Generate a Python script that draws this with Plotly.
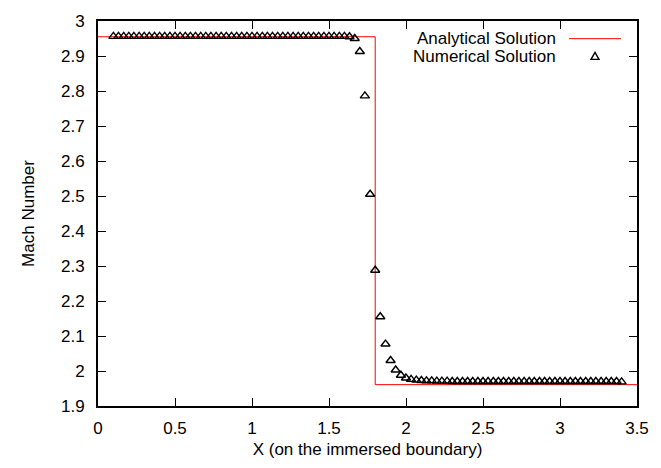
import plotly.graph_objects as go

# Analytical solution (step)
ana_x = [0.0, 1.8, 1.8, 3.5]
ana_y = [2.955, 2.955, 1.961, 1.961]

# Numerical solution
num_x = [0.100, 0.133, 0.167, 0.200, 0.233, 0.267, 0.300, 0.333, 0.367, 0.400,
         0.433, 0.467, 0.500, 0.533, 0.567, 0.600, 0.633, 0.667, 0.700, 0.733,
         0.767, 0.800, 0.833, 0.867, 0.900, 0.933, 0.967, 1.000, 1.033, 1.067,
         1.100, 1.133, 1.167, 1.200, 1.233, 1.267, 1.300, 1.333, 1.367, 1.400,
         1.433, 1.467, 1.500, 1.533, 1.567, 1.600, 1.633, 1.667, 1.700, 1.733,
         1.767, 1.800, 1.833, 1.867, 1.900, 1.933, 1.967, 2.000, 2.033, 2.067,
         2.100, 2.133, 2.167, 2.200, 2.233, 2.267, 2.300, 2.333, 2.367, 2.400,
         2.433, 2.467, 2.500, 2.533, 2.567, 2.600, 2.633, 2.667, 2.700, 2.733,
         2.767, 2.800, 2.833, 2.867, 2.900, 2.933, 2.967, 3.000, 3.033, 3.067,
         3.100, 3.133, 3.167, 3.200, 3.233, 3.267, 3.300, 3.333, 3.367, 3.400]
num_y = [2.956, 2.956, 2.956, 2.956, 2.956, 2.956, 2.956, 2.956, 2.956, 2.956,
         2.956, 2.956, 2.956, 2.956, 2.956, 2.956, 2.956, 2.956, 2.956, 2.956,
         2.956, 2.956, 2.956, 2.956, 2.956, 2.956, 2.956, 2.956, 2.956, 2.956,
         2.956, 2.956, 2.956, 2.956, 2.956, 2.956, 2.956, 2.956, 2.956, 2.956,
         2.956, 2.956, 2.956, 2.956, 2.956, 2.956, 2.955, 2.950, 2.913, 2.786,
         2.505, 2.288, 2.155, 2.077, 2.030, 2.003, 1.988, 1.980, 1.976, 1.974,
         1.973, 1.972, 1.972, 1.971, 1.971, 1.971, 1.970, 1.970, 1.970, 1.970,
         1.970, 1.970, 1.970, 1.970, 1.970, 1.970, 1.970, 1.970, 1.970, 1.970,
         1.970, 1.970, 1.970, 1.970, 1.970, 1.970, 1.970, 1.970, 1.970, 1.970,
         1.970, 1.970, 1.970, 1.970, 1.970, 1.970, 1.970, 1.970, 1.970, 1.969]

x_ticks = [0, 0.5, 1, 1.5, 2, 2.5, 3, 3.5]
x_tick_labels = ["0", "0.5", "1", "1.5", "2", "2.5", "3", "3.5"]
y_ticks = [1.9, 2, 2.1, 2.2, 2.3, 2.4, 2.5, 2.6, 2.7, 2.8, 2.9, 3]
y_tick_labels = ["1.9", "2", "2.1", "2.2", "2.3", "2.4", "2.5", "2.6", "2.7", "2.8", "2.9", "3"]

legend_names = ["Analytical Solution", "Numerical Solution"]

FONT = "Liberation Sans, Arial, Helvetica, sans-serif"
FS = 17

fig = go.Figure()
fig.add_trace(go.Scatter(x=ana_x, y=ana_y, mode="lines", name=legend_names[0],
                         line=dict(color="#ff0000", width=1), showlegend=False))
fig.add_trace(go.Scatter(x=num_x, y=num_y, mode="markers", name=legend_names[1],
                         marker=dict(symbol="triangle-up-open", size=8,
                                     color="black", line=dict(width=1.4, color="black")),
                         showlegend=False))

axis_common = dict(showgrid=False, zeroline=False, showline=True, linecolor="black",
                   linewidth=1.8, ticks="inside", ticklen=8, tickwidth=1.2,
                   tickcolor="black", mirror="ticks",
                   tickfont=dict(family=FONT, size=FS, color="black"))

fig.update_xaxes(range=[0, 3.5], tickvals=x_ticks, ticktext=x_tick_labels,
                 ticklabelstandoff=6,
                 title=dict(text="X (on the immersed boundary)",
                            font=dict(family=FONT, size=FS, color="black"), standoff=6),
                 **axis_common)
fig.update_yaxes(range=[1.9, 3], tickvals=y_ticks, ticktext=y_tick_labels,
                 ticklabelstandoff=8,
                 title=dict(text="Mach Number",
                            font=dict(family=FONT, size=FS, color="black"), standoff=22),
                 **axis_common)

# gnuplot-style key: text right-aligned, sample to the right
plot_l, plot_r, plot_t, plot_b = 98, 637, 17, 409
W, H = 661, 468
def px2paper_x(px):
    return (px - plot_l) / (plot_r - plot_l)
def py2paper_y(py):
    return (plot_b - py) / (plot_b - plot_t)

rows_py = [35, 53]
for name, py in zip(legend_names, rows_py):
    fig.add_annotation(x=px2paper_x(558), y=py2paper_y(py), xref="paper", yref="paper",
                       text=name, showarrow=False, xanchor="right", yanchor="middle",
                       font=dict(family=FONT, size=FS, color="black"))
fig.add_shape(type="line", xref="paper", yref="paper",
              x0=px2paper_x(569), x1=px2paper_x(621),
              y0=py2paper_y(rows_py[0]), y1=py2paper_y(rows_py[0]),
              line=dict(color="#ff0000", width=1))
fig.add_shape(type="path", xref="paper", yref="paper", xsizemode="pixel", ysizemode="pixel",
              xanchor=px2paper_x(595), yanchor=py2paper_y(rows_py[1]),
              path="M -4 -3 L 4 -3 L 0 4 Z",
              line=dict(color="black", width=1.4), fillcolor="rgba(0,0,0,0)")

fig.update_layout(width=W, height=H, plot_bgcolor="white", paper_bgcolor="white",
                  margin=dict(l=plot_l, r=W - plot_r, t=plot_t, b=H - plot_b),
                  showlegend=False)

fig.write_html("out.html", config={"displayModeBar": False},
               post_script="document.body.style.margin='0';document.body.style.overflow='hidden';")
